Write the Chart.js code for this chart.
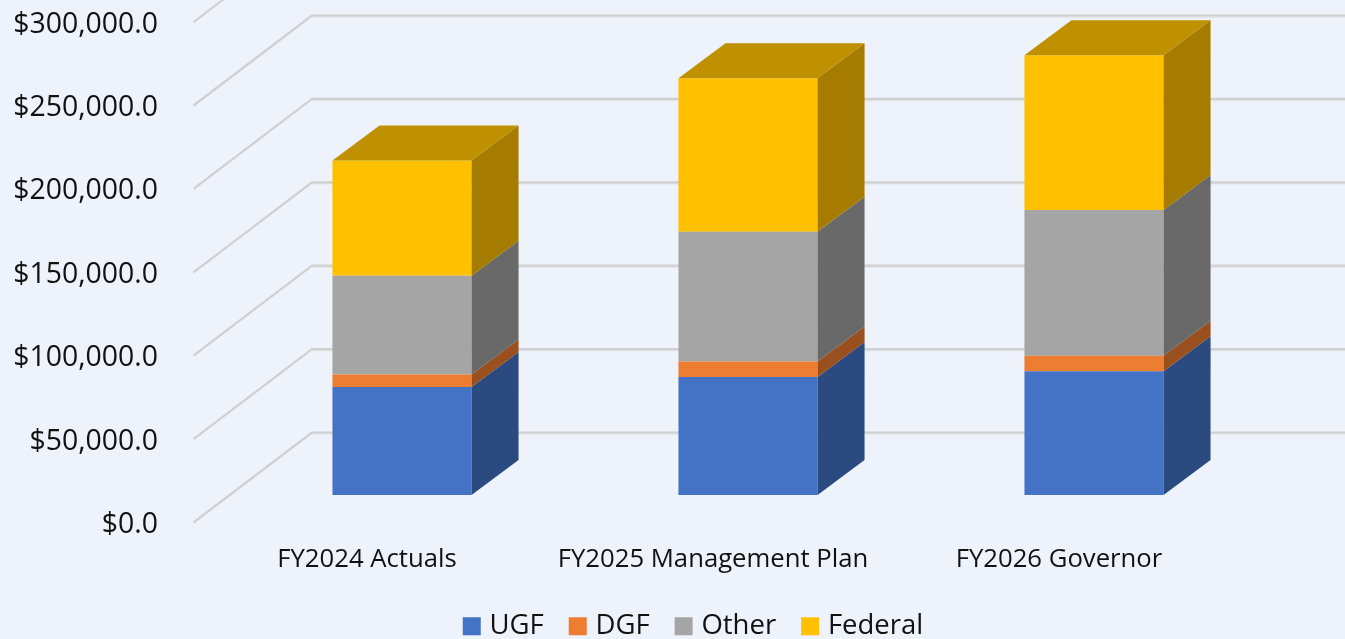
<!DOCTYPE html>
<html>
<head>
<meta charset="utf-8">
<title>Funding by fund source</title>
<script src="https://cdn.jsdelivr.net/npm/chart.js@4"></script>
<style>
  html, body { margin: 0; padding: 0; background: #EEF2FA; overflow: hidden; }
  canvas { display: block; }
</style>
</head>
<body>
<canvas id="mychart" width="1345" height="639"></canvas>
<script>
const categories = ["FY2024 Actuals", "FY2025 Management Plan", "FY2026 Governor"];
const ugf = [64700, 70700, 74200];
const dgf = [7500, 9300, 9300];
const other = [59300, 77800, 87400];
const federal = [69000, 92100, 92800];
const yTicks = [0, 50000, 100000, 150000, 200000, 250000, 300000];

const fontName = '"Open Sans", sans-serif';
const textColor = "#111111";

// 3d look: bars get a side and a top, grid goes floor -> back wall
const barDepthX = 47, barDepthY = 35;
const floorOffsetY = 27.5, floorLeft = 35.5;
const wallDepthX = 118.5, wallDepthY = 90;

const sideColors = ["#2A4A80", "#9A4F1E", "#696969", "#A67C00"];
const topColor = "#BF9000";
const legendShift = 62;
const plotTop = -5.4, plotBottom = 495;

const walls = {
  id: "walls",
  afterLayout(chart) {
    // legend sits right of the canvas centre in the original
    chart.legend.left += legendShift;
    chart.legend.right += legendShift;
    // the plot runs past the top of the canvas, layout won't do that by itself
    const y = chart.scales.y;
    y.top = plotTop;
    y.bottom = plotBottom;
    y.height = plotBottom - plotTop;
    y.configure();
    chart.chartArea.top = plotTop;
    chart.chartArea.bottom = plotBottom;
    chart.chartArea.height = plotBottom - plotTop;
  },
  beforeDatasetsDraw(chart) {
    const { ctx, chartArea, scales } = chart;
    const x0 = chartArea.left - floorLeft;
    yTicks.forEach((v) => {
      const y0 = scales.y.getPixelForValue(v) + floorOffsetY;
      ctx.save();
      ctx.lineJoin = "round";
      ctx.strokeStyle = "#E2E4E8";
      ctx.lineWidth = 1.5;
      ctx.beginPath();
      ctx.moveTo(x0 + wallDepthX, y0 - wallDepthY + 1.5);
      ctx.lineTo(chart.width, y0 - wallDepthY + 1.5);
      ctx.stroke();
      ctx.strokeStyle = "#D0D0D0";
      ctx.lineWidth = 2.2;
      ctx.beginPath();
      ctx.moveTo(x0, y0);
      ctx.lineTo(x0 + wallDepthX, y0 - wallDepthY);
      ctx.lineTo(chart.width, y0 - wallDepthY);
      ctx.stroke();
      ctx.restore();
    });
  }
};

const boxes = {
  id: "boxes",
  afterDatasetsDraw(chart) {
    const ctx = chart.ctx;
    chart.data.datasets.forEach((ds, i) => {
      chart.getDatasetMeta(i).data.forEach((bar) => {
        const right = bar.x + bar.width / 2;
        const left = bar.x - bar.width / 2;
        ctx.fillStyle = sideColors[i];
        ctx.beginPath();
        ctx.moveTo(right, bar.y);
        ctx.lineTo(right + barDepthX, bar.y - barDepthY);
        ctx.lineTo(right + barDepthX, bar.base - barDepthY);
        ctx.lineTo(right, bar.base);
        ctx.closePath();
        ctx.fill();
        if (i === chart.data.datasets.length - 1) {
          ctx.fillStyle = topColor;
          ctx.beginPath();
          ctx.moveTo(left, bar.y);
          ctx.lineTo(left + barDepthX, bar.y - barDepthY);
          ctx.lineTo(right + barDepthX, bar.y - barDepthY);
          ctx.lineTo(right, bar.y);
          ctx.closePath();
          ctx.fill();
        }
      });
    });
  }
};

// the axes ask for room for their labels, here the plot has to run past the canvas
const noAxisPadding = (axis) => {
  axis.paddingTop = -100;
  axis.paddingBottom = -100;
  axis.paddingLeft = 0;
  axis.paddingRight = 0;
};

const config = {
  type: "bar",
  data: {
    labels: categories,
    datasets: [
      { label: "UGF", data: ugf, backgroundColor: "#4472C4" },
      { label: "DGF", data: dgf, backgroundColor: "#ED7D31" },
      { label: "Other", data: other, backgroundColor: "#A5A5A5" },
      { label: "Federal", data: federal, backgroundColor: "#FFC000" }
    ]
  },
  options: {
    responsive: false,
    animation: false,
    layout: { padding: { top: -11, left: 0, right: 78, bottom: -11 } },
    datasets: { bar: { categoryPercentage: 1, barPercentage: 0.402 } },
    plugins: {
      legend: {
        position: "bottom",
        labels: {
          color: textColor,
          font: { family: fontName, size: 27.5 },
          usePointStyle: true,
          pointStyle: "rect",
          boxWidth: 8,
          boxHeight: 18,
          padding: 30
        }
      },
      tooltip: { enabled: false }
    },
    scales: {
      x: {
        stacked: true,
        grid: { display: false, drawTicks: false },
        border: { display: false },
        afterFit(axis) {
          noAxisPadding(axis);
          axis.height = 86;
        },
        ticks: {
          color: textColor,
          font: { family: fontName, size: 25.7 },
          padding: 48,
          labelOffset: -35,
          maxRotation: 0,
          autoSkip: false
        }
      },
      y: {
        stacked: true,
        min: 0,
        max: 300000,
        grid: { display: false, drawTicks: false },
        border: { display: false },
        afterBuildTicks(axis) {
          axis.ticks = yTicks.map((v) => ({ value: v }));
        },
        afterFit(axis) {
          noAxisPadding(axis);
          axis.width = 229;
        },
        ticks: {
          color: textColor,
          font: { family: fontName, size: 28.4 },
          padding: 71,
          labelOffset: 30,
          autoSkip: false,
          callback: (v) => "$" + v.toLocaleString("en-US", { minimumFractionDigits: 1, maximumFractionDigits: 1 })
        }
      }
    }
  },
  plugins: [walls, boxes]
};

const myChart = new Chart(document.querySelector("#mychart"), config);
</script>
</body>
</html>
